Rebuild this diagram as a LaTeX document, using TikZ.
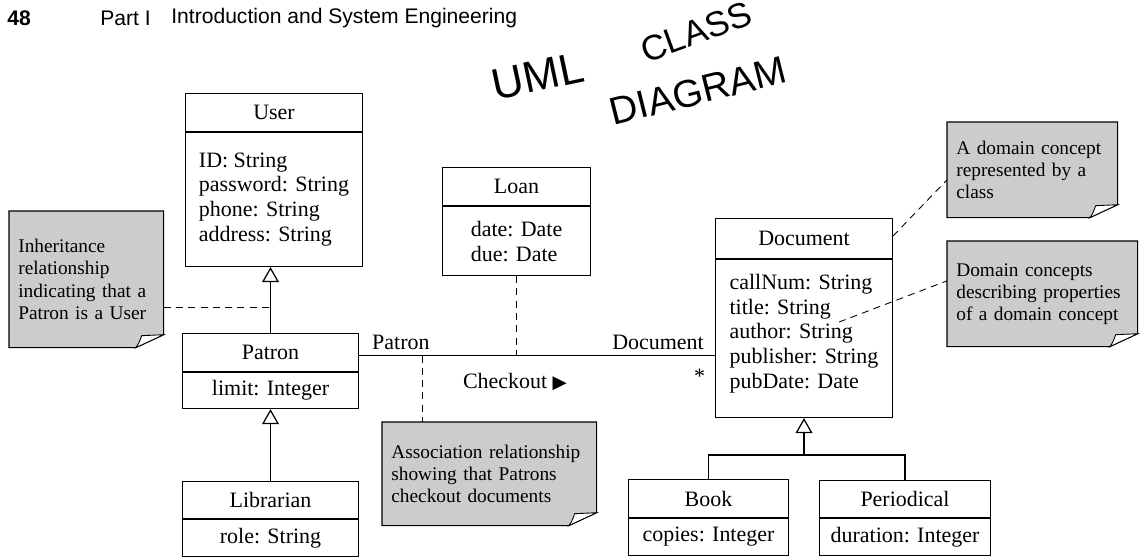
\documentclass[tikz,border=0pt]{standalone}
\usepackage{fontspec}
\setmainfont{Liberation Serif}
\newfontfamily\headfont{Liberation Sans}
\newfontfamily\symfont{DejaVu Sans}
\usepackage{tikz}
\usetikzlibrary{arrows.meta, positioning, calc}

\tikzset{
	classhead/.style={draw, line width=0.6pt, inner sep=0pt, anchor=north west, font=\fontsize{12.5}{14.2}\selectfont},
	classbody/.style={draw, line width=0.6pt, inner sep=0pt, anchor=north, align=left, font=\fontsize{12.5}{14.2}\selectfont},
	notebox/.style={fill=black!20, inner xsep=0.18cm, inner ysep=0pt, anchor=north west, align=left, font=\fontsize{11}{12.6}\selectfont},
	notelink/.style={line width=0.5pt, dash pattern=on 4pt off 3pt},
	inherit/.style={line width=0.7pt, -{Triangle[open, length=8.5pt, width=9.5pt]}},
	assoc/.style={line width=0.8pt},
	rolelabel/.style={font=\fontsize{12.5}{14}\selectfont},
	hand/.style={font=\headfont\fontsize{22}{22}\selectfont, inner sep=0pt},
	pagehead/.style={anchor=west, inner sep=0pt, font=\headfont\fontsize{12}{14}\selectfont}
}

% corner of a note folded over
\newcommand{\foldnote}[1]{%
	\fill[white] (#1.south east) -- ([yshift=0.26cm]#1.south east) -- ([xshift=-0.56cm]#1.south east) -- cycle;
	\draw[line width=0.6pt] (#1.north west) -- (#1.north east) -- ([yshift=0.26cm]#1.south east) -- ([xshift=-0.56cm]#1.south east) -- (#1.south west) -- cycle;
	\draw[line width=0.5pt, fill=white] ([xshift=-0.56cm]#1.south east) .. controls ([xshift=-0.5cm, yshift=0.08cm]#1.south east) .. ([xshift=-0.44cm, yshift=0.24cm]#1.south east) -- ([yshift=0.26cm]#1.south east) -- cycle;
}

\begin{document}
\begin{tikzpicture}[x=0.02cm, y=-0.02cm]
	\useasboundingbox (0,0) rectangle (1141,556);

	\node[pagehead, font=\headfont\bfseries\fontsize{12}{14}\selectfont] (pageNum) at (7,18) {48};
	\node[pagehead] (partName) at (100,18) {Part I};
	\node[pagehead] (chapName) at (171,18) {Introduction and System Engineering};

	\node[hand, font=\headfont\fontsize{25}{25}\selectfont, rotate=12] (hwUml) at (538,76) {UML};
	\node[hand, font=\headfont\fontsize{20}{20}\selectfont, rotate=20] (hwClass) at (696,32) {CLASS};
	\node[hand, rotate=14] (hwDiagram) at (698,91) {DIAGRAM};

	\node[classhead, minimum width=3.54cm, minimum height=0.76cm] (userH) at (185,93) {User};
	\node[classbody, minimum width=3.54cm, minimum height=2.68cm] (userB) at (userH.south) {ID: String\\password: String\\phone: String\\address: String};

	\node[classhead, minimum width=3.52cm, minimum height=0.76cm] (patronH) at (182,333) {Patron};
	\node[classbody, minimum width=3.52cm, minimum height=0.72cm] (patronB) at (patronH.south) {limit: Integer};

	\node[classhead, minimum width=3.52cm, minimum height=0.74cm] (libH) at (182,481) {Librarian};
	\node[classbody, minimum width=3.52cm, minimum height=0.74cm] (libB) at (libH.south) {role: String};

	\node[classhead, minimum width=2.96cm, minimum height=0.76cm] (loanH) at (442,167) {Loan};
	\node[classbody, minimum width=2.96cm, minimum height=1.38cm] (loanB) at (loanH.south) {date: Date\\due: Date};

	\node[classhead, minimum width=3.54cm, minimum height=0.8cm] (docH) at (715,218) {Document};
	\node[classbody, minimum width=3.54cm, minimum height=3.16cm] (docB) at (docH.south) {callNum: String\\title: String\\author: String\\publisher: String\\pubDate: Date\\[-6pt]};

	\node[classhead, minimum width=3.2cm, minimum height=0.76cm] (bookH) at (628,479) {Book};
	\node[classbody, minimum width=3.2cm, minimum height=0.74cm] (bookB) at (bookH.south) {copies: Integer};

	\node[classhead, minimum width=3.42cm, minimum height=0.74cm] (perH) at (819,480) {Periodical};
	\node[classbody, minimum width=3.42cm, minimum height=0.74cm] (perB) at (perH.south) {duration: Integer};

	\node[notebox, text width=2.72cm, minimum height=2.72cm] (inhNote) at (9,211) {Inheritance\\relationship\\indicating that a\\Patron is a User};
	\node[notebox, text width=3.92cm, minimum height=2.06cm] (assocNote) at (382,422) {Association relationship\\showing that Patrons\\checkout documents};
	\node[notebox, text width=3.04cm, minimum height=1.9cm] (domNoteA) at (947,122) {A domain concept\\represented by a\\class};
	\node[notebox, text width=3.44cm, minimum height=2.1cm] (domNoteB) at (947,241) {Domain concepts\\describing properties\\of a domain concept};
	\foldnote{inhNote}
	\foldnote{assocNote}
	\foldnote{domNoteA}
	\foldnote{domNoteB}

	\draw[inherit] (patronH.north) -- (patronH.north |- userB.south);
	\draw[inherit] (libH.north) -- (libH.north |- patronB.south);
	\coordinate (genBar) at ($(docB.south)+(0,37)$);
	\draw[line width=0.7pt] (bookH.north) |- (genBar) -| (perH.north);
	\draw[inherit] (genBar) -- (docB.south);

	\coordinate (assocL) at ($(patronH.east)+(0,3)$);
	\coordinate (assocR) at (assocL -| docB.west);
	\draw[assoc] (assocL) -- (assocR);
	\node[rolelabel, anchor=south west] (rolePatron) at ([xshift=0.14cm]assocL) {Patron};
	\node[rolelabel, anchor=south east] (roleDoc) at ([xshift=-0.1cm]assocR) {Document};
	\node[rolelabel] (assocName) at (515,382) {Checkout {\symfont\fontsize{10.5}{10}\selectfont ▶}};
	\node[rolelabel, anchor=north east, inner sep=2pt] (multDoc) at ([xshift=-0.12cm, yshift=-0.2cm]assocR) {*};

	\draw[notelink] (loanB.south) -- (loanB.south |- assocL);
	\coordinate (assocTap) at ($(assocL)+(63,0)$);
	\draw[notelink] (assocTap) -- (assocTap |- assocNote.north);
	\coordinate (inhTap) at ([yshift=-0.56cm]inhNote.east);
	\draw[notelink] (inhTap) -- (inhTap -| patronH.north);
	\draw[notelink] ([yshift=0.05cm]docH.east) -- ([yshift=-0.2cm]domNoteA.west);
	\coordinate (authorEnd) at ($(docB.north east)+(-54,63)$);
	\draw[notelink] (authorEnd) -- ([yshift=0.26cm]domNoteB.west);
\end{tikzpicture}
\end{document}
